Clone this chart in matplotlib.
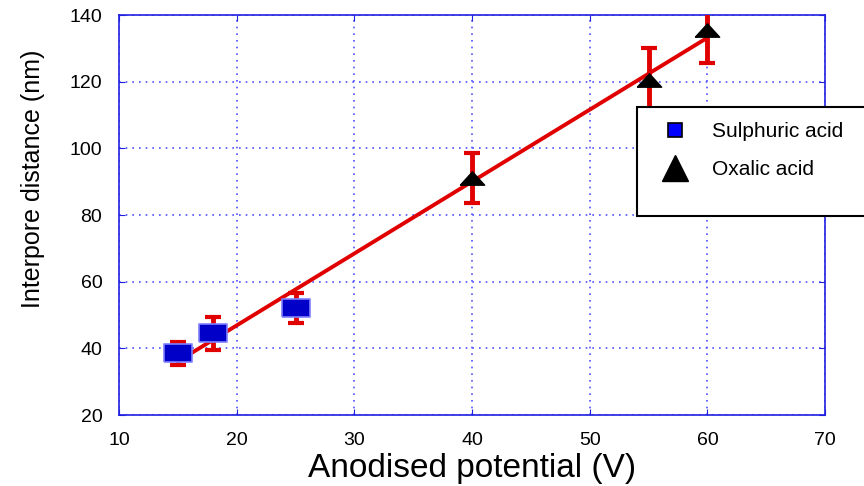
import numpy as np
import matplotlib
matplotlib.use("Agg")
import matplotlib.pyplot as plt
from matplotlib.lines import Line2D
from matplotlib.patches import Rectangle

plt.rcParams['font.family'] = ['Liberation Sans', 'DejaVu Sans']

# data
sul_v = [15, 18, 25]
sul_d = [38.5, 44.5, 52.0]
sul_err = [3.5, 5.0, 4.5]

oxa_v = [40, 55, 60]
oxa_d = [91.0, 120.5, 135.5]
oxa_err = [7.5, 9.5, 10.0]

red = '#e00000'

fig = plt.figure(figsize=(8.64, 4.86), dpi=100)
ax = fig.add_axes([0.1377, 0.146, 0.8173, 0.823])

# linear fit through all points
all_v = np.array(sul_v + oxa_v)
all_d = np.array(sul_d + oxa_d)
k, b = np.polyfit(all_v, all_d, 1)
fit_x = np.array([min(all_v), max(all_v)])
ax.plot(fit_x, k * fit_x + b, color=red, lw=2.8, zorder=3)

ax.errorbar(sul_v, sul_d, yerr=sul_err, fmt='none', ecolor=red,
            elinewidth=3.5, capsize=6, capthick=3, zorder=4)
ax.errorbar(oxa_v, oxa_d, yerr=oxa_err, fmt='none', ecolor=red,
            elinewidth=3.5, capsize=6, capthick=3, zorder=4)

rect = [(-1.6, -1), (1.6, -1), (1.6, 1), (-1.6, 1), (-1.6, -1)]
tri = [(-1, -0.55), (1, -0.55), (0, 0.55), (-1, -0.55)]
ax.plot(sul_v, sul_d, ls='none', marker=rect, ms=20, mfc='#0000c8',
        mec='#8080ff', mew=1.2, zorder=5)
ax.plot(oxa_v, oxa_d, ls='none', marker=tri, ms=17.5, mfc='black',
        mec='black', zorder=5)

ax.set_xlim(10, 70)
ax.set_ylim(20, 140)
ax.set_xticks(range(10, 71, 10))
ax.set_yticks(range(20, 141, 20))
ax.grid(True, color='#5050ff', ls=(0, (1, 3)), lw=1.2)
for s in ax.spines.values():
    s.set_color('#2020e0')
    s.set_linewidth(1.2)
ax.tick_params(direction='in', colors='#2020e0', labelcolor='black',
               length=4, top=True, right=True, labelsize=14)
ax.tick_params(axis='x', pad=12)
ax.tick_params(axis='y', pad=12)

ax.set_xlabel('Anodised potential (V)', fontsize=24, labelpad=3)
ax.set_ylabel('Interpore distance (nm)', fontsize=18)
ax.yaxis.set_label_coords(-0.105, 0.59)

# legend box, running off the right edge
fig.patches.append(Rectangle((0.737, 0.556), 0.4, 0.224, transform=fig.transFigure,
                             fill=True, fc='white', ec='black', lw=1.5, zorder=10))
handles = [Line2D([], [], ls='none', marker='s', ms=10, mfc='#0000ff', mec='black', mew=1.2),
           Line2D([], [], ls='none', marker='^', ms=19, mfc='black', mec='black')]
leg = fig.legend(handles, ['Sulphuric acid', 'Oxalic acid'], loc='upper left',
                 bbox_to_anchor=(0.745, 0.787), frameon=False, fontsize=15,
                 handlelength=1.2, handletextpad=1.2, labelspacing=0.9)
leg.set_zorder(11)

fig.savefig('out.png', dpi=100)
